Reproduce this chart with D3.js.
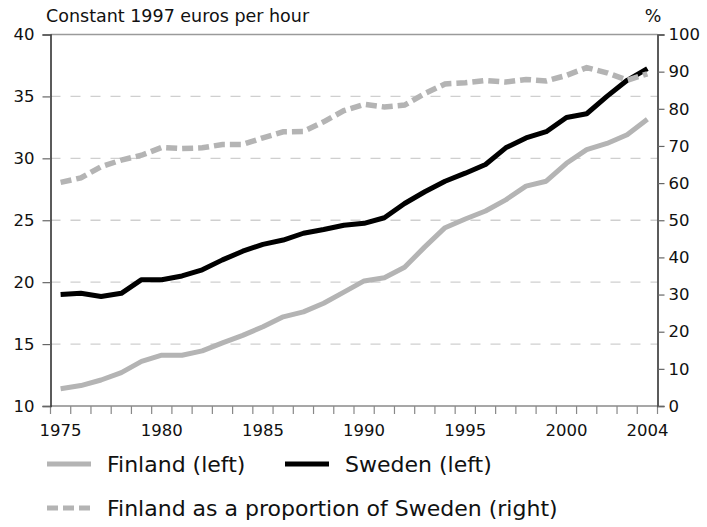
<!DOCTYPE html>
<html>
<head>
<meta charset="utf-8">
<script src="https://cdn.jsdelivr.net/npm/d3@7"></script>
<style>
  html, body { margin: 0; padding: 0; background: #fff; }
  svg { display: block; font-family: "DejaVu Sans", sans-serif; }
</style>
</head>
<body>
<svg id="chart" width="707" height="527"></svg>
<script>
const years = [1975,1976,1977,1978,1979,1980,1981,1982,1983,1984,1985,1986,1987,1988,1989,
               1990,1991,1992,1993,1994,1995,1996,1997,1998,1999,2000,2001,2002,2003,2004];
const finland = [11.4,11.65,12.1,12.7,13.6,14.1,14.1,14.45,15.1,15.7,16.4,17.2,17.6,18.3,19.2,
                 20.1,20.35,21.2,22.85,24.4,25.1,25.75,26.65,27.75,28.15,29.6,30.7,31.2,31.9,33.15];
const sweden = [19.0,19.1,18.85,19.1,20.2,20.2,20.5,21.0,21.8,22.5,23.05,23.4,23.95,24.25,24.6,
                24.75,25.2,26.35,27.3,28.15,28.8,29.5,30.85,31.65,32.15,33.3,33.6,35.0,36.3,37.25];
const proportion = [60.2,61.4,64.4,66.2,67.5,69.6,69.3,69.5,70.4,70.4,72.2,73.8,73.9,76.5,79.5,
                    81.2,80.5,81.0,84.1,86.7,87.0,87.6,87.2,87.9,87.5,89.0,91.1,89.7,87.7,89.4];
const leftTicks = [10,15,20,25,30,35,40];
const rightTicks = [0,10,20,30,40,50,60,70,80,90,100];
const xLabels = [1975,1980,1985,1990,1995,2000,2004];
const leftTitle = "Constant 1997 euros per hour";
const rightTitle = "%";
const legendLabels = ["Finland (left)", "Sweden (left)", "Finland as a proportion of Sweden (right)"];

const L = 50.5, R = 657.5, T = 34.5, B = 406;
const svg = d3.select("#chart");

const x = d3.scaleBand().domain(years).range([L, R]).padding(0);
const xc = d => x(d) + x.bandwidth() / 2;
const yL = d3.scaleLinear().domain([10, 40]).range([B, T]);
const yR = d3.scaleLinear().domain([0, 100]).range([B, T]);

// gridlines
svg.append("g").selectAll("line").data(leftTicks.filter(t => t > 10 && t < 40)).join("line")
  .attr("x1", L).attr("x2", R).attr("y1", d => yL(d)).attr("y2", d => yL(d))
  .attr("stroke", "#cfcfcf").attr("stroke-width", 1.3).attr("stroke-dasharray", "10,10");

// frame: top border
svg.append("line").attr("x1", L).attr("x2", R).attr("y1", T).attr("y2", T)
  .attr("stroke", "#9a9a9a").attr("stroke-width", 1.5);

// bottom axis
const gx = svg.append("g").attr("transform", `translate(0,${B})`)
  .call(d3.axisBottom(x).tickSize(0).tickFormat(d => xLabels.includes(d) ? d : ""));
gx.select(".domain").remove();
gx.selectAll("text").attr("font-size", 16.5).attr("fill", "#111").attr("dy", "1.65em")
  .attr("font-family", "DejaVu Sans");
// ticks at band edges
const edges = years.map(d => x(d)).concat([R]);
svg.append("g").selectAll("line").data(edges).join("line")
  .attr("x1", d => d).attr("x2", d => d).attr("y1", B).attr("y2", B + 8)
  .attr("stroke", "#888").attr("stroke-width", 1.2);
svg.append("line").attr("x1", L).attr("x2", R).attr("y1", B).attr("y2", B)
  .attr("stroke", "#8a8a8a").attr("stroke-width", 1.5);

// left axis
const gl = svg.append("g").attr("transform", `translate(${L},0)`)
  .call(d3.axisLeft(yL).tickValues(leftTicks).tickSize(8).tickPadding(8));
gl.select(".domain").attr("stroke", "#333").attr("stroke-width", 1.6);
gl.selectAll(".tick line").attr("stroke", "#666").attr("stroke-width", 1.2);
gl.selectAll("text").attr("font-size", 16.5).attr("fill", "#111").attr("font-family", "DejaVu Sans");

// right axis
const gr = svg.append("g").attr("transform", `translate(${R},0)`)
  .call(d3.axisRight(yR).tickValues(rightTicks).tickSize(7).tickPadding(4));
gr.select(".domain").attr("stroke", "#333").attr("stroke-width", 1.6);
gr.selectAll(".tick line").attr("stroke", "#666").attr("stroke-width", 1.2);
gr.selectAll("text").attr("font-size", 16.5).attr("fill", "#111").attr("font-family", "DejaVu Sans");

// axis titles
svg.append("text").attr("x", 46).attr("y", 22).attr("font-size", 17.5).attr("fill", "#111").text(leftTitle);
svg.append("text").attr("x", 653).attr("y", 22).attr("text-anchor", "middle").attr("font-size", 17.5).attr("fill", "#111").text(rightTitle);

// lines
const lineL = d3.line().x((d, i) => xc(years[i])).y(d => yL(d));
const lineR = d3.line().x((d, i) => xc(years[i])).y(d => yR(d));
svg.append("path").datum(finland).attr("d", lineL).attr("fill", "none")
  .attr("stroke", "#b4b4b4").attr("stroke-width", 5).attr("stroke-linejoin", "round");
svg.append("path").datum(sweden).attr("d", lineL).attr("fill", "none")
  .attr("stroke", "#000").attr("stroke-width", 5).attr("stroke-linejoin", "round");
svg.append("path").datum(proportion).attr("d", lineR).attr("fill", "none")
  .attr("stroke", "#b4b4b4").attr("stroke-width", 5.5).attr("stroke-dasharray", "11,5");

// legend
const legend = [
  {label: legendLabels[0], x: 47, y: 464, color: "#b4b4b4", dash: null},
  {label: legendLabels[1], x: 285, y: 464, color: "#000", dash: null},
  {label: legendLabels[2], x: 47, y: 508, color: "#b4b4b4", dash: "11,5"}
];
const lg = svg.append("g").selectAll("g").data(legend).join("g")
  .attr("transform", d => `translate(${d.x},${d.y})`);
lg.append("line").attr("x1", 0).attr("x2", 44).attr("y1", 0).attr("y2", 0)
  .attr("stroke", d => d.color).attr("stroke-width", 5)
  .attr("stroke-dasharray", d => d.dash);
lg.append("text").attr("x", 60).attr("y", 0).attr("dy", "0.35em")
  .attr("font-size", 22).attr("fill", "#111").text(d => d.label);
</script>
</body>
</html>
